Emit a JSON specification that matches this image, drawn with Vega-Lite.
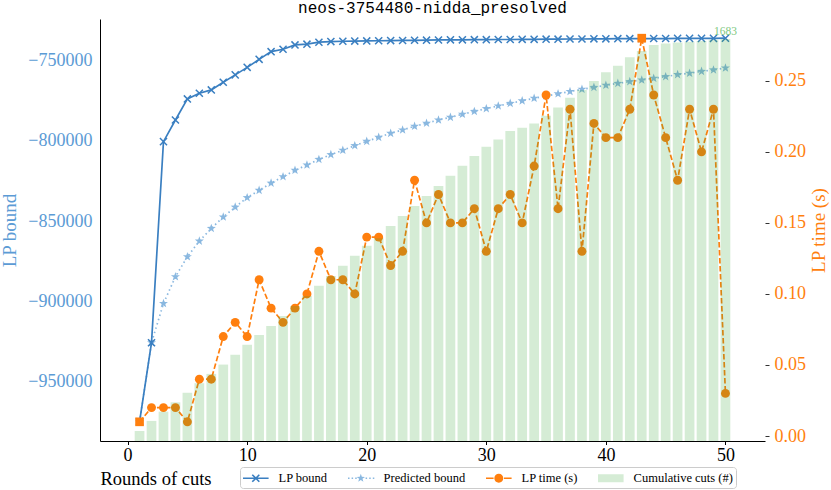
{
  "$schema": "https://vega.github.io/schema/vega-lite/v6.json",
  "autosize": {"type": "none"},
  "padding": {"left": 100, "top": 19, "right": 66, "bottom": 49},
  "width": 665,
  "height": 422,
  "title": {
    "text": "neos-3754480-nidda_presolved",
    "font": "Liberation Mono",
    "fontSize": 16,
    "fontWeight": "normal",
    "color": "black",
    "offset": 3
  },
  "datasets": {
    "rounds": [
      {"round": 1, "lp_bound": -975400, "predicted_bound": -975400, "lp_time": 0.01, "cuts": 42},
      {"round": 2, "lp_bound": -926000, "predicted_bound": -926000, "lp_time": 0.02, "cuts": 84},
      {"round": 3, "lp_bound": -800400, "predicted_bound": -901500, "lp_time": 0.02, "cuts": 123},
      {"round": 4, "lp_bound": -786900, "predicted_bound": -884800, "lp_time": 0.02, "cuts": 162},
      {"round": 5, "lp_bound": -773700, "predicted_bound": -872300, "lp_time": 0.01, "cuts": 202},
      {"round": 6, "lp_bound": -770200, "predicted_bound": -862500, "lp_time": 0.04, "cuts": 242},
      {"round": 7, "lp_bound": -768100, "predicted_bound": -854600, "lp_time": 0.04, "cuts": 281},
      {"round": 8, "lp_bound": -763300, "predicted_bound": -847500, "lp_time": 0.07, "cuts": 320},
      {"round": 9, "lp_bound": -758700, "predicted_bound": -841300, "lp_time": 0.08, "cuts": 361},
      {"round": 10, "lp_bound": -754000, "predicted_bound": -835400, "lp_time": 0.07, "cuts": 403},
      {"round": 11, "lp_bound": -749000, "predicted_bound": -830800, "lp_time": 0.11, "cuts": 444},
      {"round": 12, "lp_bound": -744200, "predicted_bound": -826300, "lp_time": 0.09, "cuts": 482},
      {"round": 13, "lp_bound": -742700, "predicted_bound": -822300, "lp_time": 0.08, "cuts": 523},
      {"round": 14, "lp_bound": -740000, "predicted_bound": -818300, "lp_time": 0.09, "cuts": 565},
      {"round": 15, "lp_bound": -739500, "predicted_bound": -815000, "lp_time": 0.10, "cuts": 607},
      {"round": 16, "lp_bound": -738300, "predicted_bound": -811500, "lp_time": 0.13, "cuts": 650},
      {"round": 17, "lp_bound": -737900, "predicted_bound": -808500, "lp_time": 0.11, "cuts": 691},
      {"round": 18, "lp_bound": -737700, "predicted_bound": -805800, "lp_time": 0.11, "cuts": 734},
      {"round": 19, "lp_bound": -737600, "predicted_bound": -802900, "lp_time": 0.10, "cuts": 776},
      {"round": 20, "lp_bound": -737500, "predicted_bound": -800200, "lp_time": 0.14, "cuts": 818},
      {"round": 21, "lp_bound": -737400, "predicted_bound": -797700, "lp_time": 0.14, "cuts": 849},
      {"round": 22, "lp_bound": -737300, "predicted_bound": -795200, "lp_time": 0.12, "cuts": 900},
      {"round": 23, "lp_bound": -737200, "predicted_bound": -793100, "lp_time": 0.13, "cuts": 942},
      {"round": 24, "lp_bound": -737100, "predicted_bound": -790800, "lp_time": 0.18, "cuts": 984},
      {"round": 25, "lp_bound": -737000, "predicted_bound": -788900, "lp_time": 0.15, "cuts": 1026},
      {"round": 26, "lp_bound": -736900, "predicted_bound": -786900, "lp_time": 0.17, "cuts": 1068},
      {"round": 27, "lp_bound": -736800, "predicted_bound": -785200, "lp_time": 0.15, "cuts": 1111},
      {"round": 28, "lp_bound": -736800, "predicted_bound": -783300, "lp_time": 0.15, "cuts": 1153},
      {"round": 29, "lp_bound": -736700, "predicted_bound": -781500, "lp_time": 0.16, "cuts": 1193},
      {"round": 30, "lp_bound": -736700, "predicted_bound": -779800, "lp_time": 0.13, "cuts": 1232},
      {"round": 31, "lp_bound": -736600, "predicted_bound": -778100, "lp_time": 0.16, "cuts": 1263},
      {"round": 32, "lp_bound": -736600, "predicted_bound": -776500, "lp_time": 0.17, "cuts": 1298},
      {"round": 33, "lp_bound": -736500, "predicted_bound": -774900, "lp_time": 0.15, "cuts": 1312},
      {"round": 34, "lp_bound": -736500, "predicted_bound": -773300, "lp_time": 0.19, "cuts": 1330},
      {"round": 35, "lp_bound": -736400, "predicted_bound": -771900, "lp_time": 0.24, "cuts": 1362},
      {"round": 36, "lp_bound": -736400, "predicted_bound": -770500, "lp_time": 0.16, "cuts": 1397},
      {"round": 37, "lp_bound": -736300, "predicted_bound": -769100, "lp_time": 0.23, "cuts": 1437},
      {"round": 38, "lp_bound": -736300, "predicted_bound": -767700, "lp_time": 0.13, "cuts": 1470},
      {"round": 39, "lp_bound": -736200, "predicted_bound": -766500, "lp_time": 0.22, "cuts": 1507},
      {"round": 40, "lp_bound": -736200, "predicted_bound": -765200, "lp_time": 0.21, "cuts": 1544},
      {"round": 41, "lp_bound": -736100, "predicted_bound": -764000, "lp_time": 0.21, "cuts": 1571},
      {"round": 42, "lp_bound": -736100, "predicted_bound": -762900, "lp_time": 0.23, "cuts": 1607},
      {"round": 43, "lp_bound": -736000, "predicted_bound": -761900, "lp_time": 0.28, "cuts": 1633},
      {"round": 44, "lp_bound": -736000, "predicted_bound": -760800, "lp_time": 0.24, "cuts": 1658},
      {"round": 45, "lp_bound": -736000, "predicted_bound": -759800, "lp_time": 0.21, "cuts": 1665},
      {"round": 46, "lp_bound": -735900, "predicted_bound": -758500, "lp_time": 0.18, "cuts": 1669},
      {"round": 47, "lp_bound": -735900, "predicted_bound": -757700, "lp_time": 0.23, "cuts": 1672},
      {"round": 48, "lp_bound": -735900, "predicted_bound": -756500, "lp_time": 0.20, "cuts": 1675},
      {"round": 49, "lp_bound": -735900, "predicted_bound": -755600, "lp_time": 0.23, "cuts": 1680},
      {"round": 50, "lp_bound": -735800, "predicted_bound": -754400, "lp_time": 0.03, "cuts": 1683}
    ]
  },
  "data": {"name": "rounds"},
  "encoding": {
    "x": {
      "field": "round",
      "type": "quantitative",
      "scale": {"domain": [-1.89, 52.89], "nice": false, "zero": false},
      "axis": {
        "values": [0, 10, 20, 30, 40, 50],
        "title": "Rounds of cuts",
        "titleAnchor": "start",
        "titleAlign": "left",
        "titleFontSize": 18.5,
        "titleFontWeight": "normal",
        "titleColor": "black",
        "titlePadding": 5,
        "labelFontSize": 18,
        "labelColor": "black",
        "labelPadding": 2,
        "tickSize": 3.5,
        "tickColor": "black",
        "domainColor": "black",
        "domainWidth": 1,
        "grid": false
      }
    }
  },
  "layer": [
    {
      "encoding": {
        "y": {
          "field": "lp_bound",
          "type": "quantitative",
          "title": "LP bound",
          "scale": {"domain": [-987400, -723800], "nice": false, "zero": false},
          "axis": {
            "orient": "left",
            "title": "LP bound",
            "values": [-950000, -900000, -850000, -800000, -750000],
            "format": "d",
            "titleColor": "#5b9bd5",
            "titleFontSize": 19,
            "titleFontWeight": "normal",
            "titlePadding": 8,
            "labelColor": "#5b9bd5",
            "labelFontSize": 18,
            "labelPadding": 8,
            "ticks": false,
            "domainColor": "black",
            "domainWidth": 1,
            "grid": false
          }
        }
      },
      "layer": [
        {
          "mark": {"type": "line", "color": "#8ab8e0", "strokeWidth": 1.7, "strokeDash": [1.5, 3]},
          "encoding": {"y": {"field": "predicted_bound", "type": "quantitative", "title": "LP bound", "scale": {"domain": [-987400, -723800], "nice": false, "zero": false}}}
        },
        {
          "mark": {"type": "point", "shape": "M0,-1L0.235,-0.324L0.951,-0.309L0.38,0.124L0.588,0.809L0,0.4L-0.588,0.809L-0.38,0.124L-0.951,-0.309L-0.235,-0.324Z", "filled": true, "color": "#8ab8e0", "size": 90, "opacity": 1},
          "encoding": {"y": {"field": "predicted_bound", "type": "quantitative", "title": "LP bound", "scale": {"domain": [-987400, -723800], "nice": false, "zero": false}}}
        },
        {
          "mark": {"type": "line", "color": "#3a7fc1", "strokeWidth": 1.7}
        },
        {
          "mark": {"type": "point", "shape": "M-1,-1L1,1M-1,1L1,-1", "filled": false, "color": "#3a7fc1", "size": 50, "strokeWidth": 1.5, "opacity": 1}
        }
      ]
    },
    {
      "encoding": {
        "y": {
          "field": "lp_time",
          "type": "quantitative",
          "scale": {"domain": [-0.0035, 0.2935], "nice": false, "zero": false},
          "axis": {
            "orient": "right",
            "title": "LP time (s)",
            "values": [0, 0.05, 0.1, 0.15, 0.2, 0.25],
            "format": ".2f",
            "titleColor": "#ff7f0e",
            "titleFontSize": 19,
            "titleFontWeight": "normal",
            "titleAngle": 270,
            "titleBaseline": "top",
            "titlePadding": 4,
            "labelColor": "#ff7f0e",
            "labelFontSize": 18,
            "labelPadding": 5,
            "domain": false,
            "ticks": true,
            "tickColor": "#333333",
            "tickSize": 4,
            "grid": false
          }
        }
      },
      "layer": [
        {
          "mark": {"type": "line", "color": "#ff7f0e", "strokeWidth": 1.7, "strokeDash": [5.5, 2.5]}
        },
        {
          "transform": [{"filter": "datum.round != 1 && datum.round != 43"}],
          "mark": {"type": "point", "shape": "circle", "filled": true, "color": "#ff7f0e", "size": 80, "opacity": 1}
        },
        {
          "transform": [{"filter": "datum.round == 1 || datum.round == 43"}],
          "mark": {"type": "point", "shape": "square", "filled": true, "color": "#ff7f0e", "size": 75, "opacity": 1}
        }
      ]
    },
    {
      "encoding": {
        "y": {
          "field": "cuts",
          "type": "quantitative",
          "scale": {"domain": [0, 1767.15], "nice": false, "zero": false},
          "axis": null
        }
      },
      "layer": [
        {
          "mark": {"type": "bar", "width": 9.7, "opacity": 0.2, "color": "#2ca02c"}
        },
        {
          "transform": [{"filter": "datum.round == 50"}],
          "mark": {"type": "text", "baseline": "bottom", "align": "center", "dy": -2, "fontSize": 11.5, "color": "#7ec87e"},
          "encoding": {
            "text": {"field": "cuts", "type": "quantitative", "format": "d"}
          }
        },
        {
          "transform": [{"filter": "datum.round < 0"}],
          "mark": {"type": "point", "filled": true, "size": 256},
          "encoding": {
            "color": {
              "datum": "Cumulative cuts (#)",
              "scale": {
                "domain": ["LP bound", "Predicted bound", "LP time (s)", "Cumulative cuts (#)"],
                "range": ["#3a7fc1", "#8ab8e0", "#ff7f0e", "#d5ecd5"]
              },
              "legend": {
                "title": null,
                "orient": "none",
                "direction": "horizontal",
                "columns": 4,
                "columnPadding": 20,
                "legendX": 140,
                "legendY": 448,
                "padding": 3,
                "strokeColor": "#cccccc",
                "fillColor": "white",
                "cornerRadius": 3,
                "symbolSize": 256,
                "symbolOpacity": 1,
                "symbolStrokeWidth": 0,
                "labelOffset": 19.6,
                "labelFontSize": 12.5,
                "labelColor": "black",
                "labelBaseline": "middle"
              }
            },
            "shape": {
              "datum": "Cumulative cuts (#)",
              "scale": {
                "domain": ["LP bound", "Predicted bound", "LP time (s)", "Cumulative cuts (#)"],
                "range": [
                  "M-1,-0.1H2.2V0.1H-1ZM0.231,-0.511L1.111,0.369L0.969,0.511L0.089,-0.369ZM0.089,0.369L0.969,-0.511L1.111,-0.369L0.231,0.511Z",
                  "M-1,-0.1h0.19v0.2h-0.19ZM-0.55,-0.1h0.19v0.2h-0.19ZM-0.1,-0.1h0.19v0.2h-0.19ZM1.2,-0.1h0.19v0.2h-0.19ZM1.65,-0.1h0.19v0.2h-0.19ZM2.1,-0.1h0.19v0.2h-0.19ZM0.6,-0.55L0.729,-0.178L1.123,-0.17L0.809,0.068L0.923,0.445L0.6,0.22L0.277,0.445L0.391,0.068L0.077,-0.17L0.471,-0.178Z",
                  "M-1,-0.1H-0.05V0.1H-1ZM1.25,-0.1H2.2V0.1H1.25ZM1.16,0A0.56,0.56 0 1,1 0.04,0A0.56,0.56 0 1,1 1.16,0Z",
                  "M-1,-0.5H2.2V0.5H-1Z"
                ]
              },
              "legend": {
                "title": null,
                "orient": "none",
                "direction": "horizontal",
                "columns": 4,
                "columnPadding": 20,
                "legendX": 140,
                "legendY": 448,
                "padding": 3,
                "strokeColor": "#cccccc",
                "fillColor": "white",
                "cornerRadius": 3,
                "symbolSize": 256,
                "symbolOpacity": 1,
                "symbolStrokeWidth": 0,
                "labelOffset": 19.6,
                "labelFontSize": 12.5,
                "labelColor": "black",
                "labelBaseline": "middle"
              }
            }
          }
        }
      ]
    }
  ],
  "resolve": {"scale": {"y": "independent"}},
  "config": {
    "view": {"stroke": null},
    "font": "Liberation Serif"
  }
}
